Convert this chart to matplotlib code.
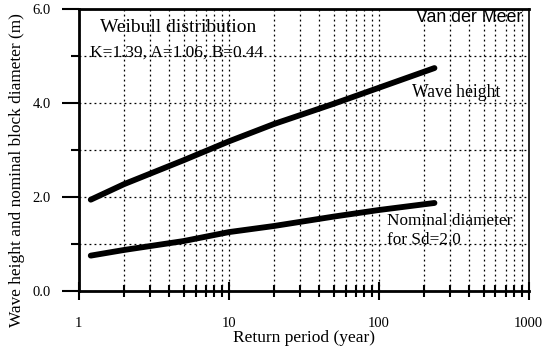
import numpy as np
import matplotlib.pyplot as plt
from matplotlib.ticker import FixedLocator, NullFormatter, LogLocator

# Values
return_period = [1.2, 2, 5, 10, 20, 50, 100, 235]
wave_height = [1.94, 2.27, 2.78, 3.18, 3.55, 3.98, 4.32, 4.74]
nominal_diameter = [0.75, 0.87, 1.06, 1.25, 1.38, 1.58, 1.72, 1.87]

x_ticks = [1, 10, 100, 1000]
x_ticklabels = ['1', '10', '100', '1000']
y_ticks = [0.0, 2.0, 4.0, 6.0]

plt.rcParams['font.family'] = ['Liberation Serif', 'DejaVu Serif']

fig = plt.figure(figsize=(5.44, 3.53), dpi=100)
ax = fig.add_axes([0.145, 0.176, 0.827, 0.799])

ax.plot(return_period, wave_height, color='black', lw=4.2, solid_capstyle='round')
ax.plot(return_period, nominal_diameter, color='black', lw=4.2, solid_capstyle='round')

ax.set_xscale('log')
ax.set_xlim(1, 1000)
ax.set_ylim(0, 6)

ax.xaxis.set_major_locator(FixedLocator(x_ticks))
ax.set_xticklabels(x_ticklabels)
ax.xaxis.set_minor_locator(LogLocator(base=10, subs=np.arange(2, 10)))
ax.xaxis.set_minor_formatter(NullFormatter())
ax.set_yticks(y_ticks)
ax.set_yticklabels([f'{v:.1f}' for v in y_ticks])
ax.yaxis.set_minor_locator(FixedLocator([1, 3, 5]))

ax.grid(which='both', color='black', linestyle=(0, (1.5, 2.5)), lw=0.9)

ax.tick_params(axis='x', which='major', direction='inout', length=13, width=1.5,
               pad=12, labelsize=10.5)
ax.tick_params(axis='x', which='minor', direction='inout', length=8, width=1.5)
ax.tick_params(axis='y', which='major', direction='out', length=12, width=1.5,
               pad=8, labelsize=10.5)
ax.tick_params(axis='y', which='minor', direction='out', length=6, width=1.5)

for side in ['left', 'bottom', 'top']:
    ax.spines[side].set_linewidth(2)
ax.spines['right'].set_linewidth(1.2)

ax.set_xlabel('Return period (year)', fontsize=12.5, labelpad=0)
ax.set_ylabel('Wave height and nominal block diameter (m)', fontsize=12.4)
ax.yaxis.set_label_coords(-0.12, 0.43)

ax.text(1.38, 5.6, 'Weibull distribution', fontsize=14, va='center')
ax.text(1.18, 5.06, 'K=1.39, A=1.06, B=0.44', fontsize=12.5, va='center')
ax.text(900, 5.81, 'Van der Meer', fontsize=12.8, ha='right', va='center',
        family=['Liberation Sans', 'DejaVu Sans'])
ax.text(166, 4.23, 'Wave height', fontsize=12.7, va='center')
ax.text(114, 1.49, 'Nominal diameter', fontsize=12.4, va='center')
ax.text(114, 1.09, 'for Sd=2.0', fontsize=12.4, va='center')

fig.savefig('out.png', dpi=100)
